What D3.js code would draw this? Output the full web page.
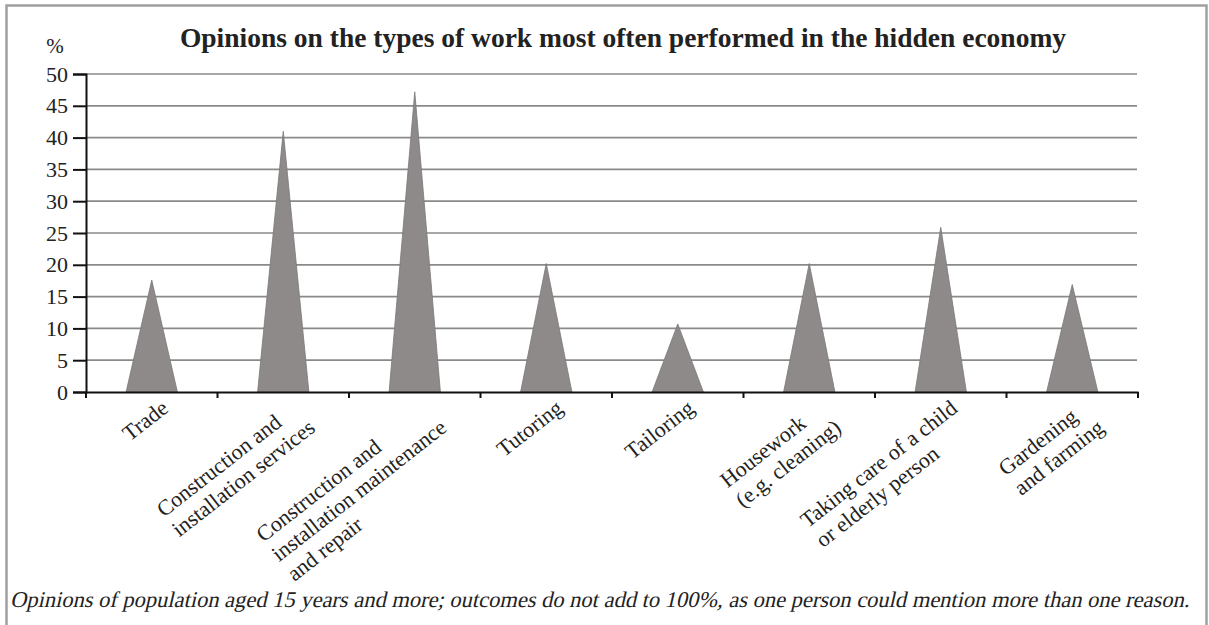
<!DOCTYPE html>
<html>
<head>
<meta charset="utf-8">
<script src="https://cdn.jsdelivr.net/npm/d3@7"></script>
<style>
  html, body { margin: 0; padding: 0; background: #fff; }
  svg { display: block; }
  text { font-family: "Liberation Serif", "Times New Roman", Times, serif; fill: #222; }
</style>
</head>
<body>
<svg id="chart" width="1209" height="625"></svg>
<script>
const categories = [
  "Trade",
  "Construction and installation services",
  "Construction and installation maintenance and repair",
  "Tutoring",
  "Tailoring",
  "Housework (e.g. cleaning)",
  "Taking care of a child or elderly person",
  "Gardening and farming"
];
const labelLines = [
  ["Trade"],
  ["Construction and", "installation services"],
  ["Construction and", "installation maintenance", "and repair"],
  ["Tutoring"],
  ["Tailoring"],
  ["Housework", "(e.g. cleaning)"],
  ["Taking care of a child", "or elderly person"],
  ["Gardening", "and farming"]
];
const values = [17.6, 41, 47.2, 20.2, 10.7, 20.2, 25.9, 16.9];
const yTicks = [0, 5, 10, 15, 20, 25, 30, 35, 40, 45, 50];
const titleText = "Opinions on the types of work most often performed in the hidden economy";
const unitText = "%";
const noteText = "Opinions of population aged 15 years and more; outcomes do not add to 100%, as one person could mention more than one reason.";

const FONT = "'Liberation Serif', 'Times New Roman', Times, serif";
const svg = d3.select("#chart");
const plot = { left: 86, right: 1138, top: 74, bottom: 392 };

// frame
svg.append("rect")
  .attr("x", 6.5).attr("y", 5.5)
  .attr("width", 1200).attr("height", 640)
  .attr("fill", "#fff").attr("stroke", "#a0a0a0").attr("stroke-width", 2.5);

const x = d3.scaleBand().domain(categories).range([plot.left, plot.right]).padding(0);
const y = d3.scaleLinear().domain([0, 50]).range([plot.bottom, plot.top]);

// gridlines
svg.append("g")
  .selectAll("line")
  .data(yTicks.filter(d => d > 0))
  .join("line")
  .attr("x1", plot.left).attr("x2", plot.right - 1)
  .attr("y1", d => y(d)).attr("y2", d => y(d))
  .attr("stroke", "#8a8a8a").attr("stroke-width", 1.7);

// triangles (cone-like bars)
const halfBase = x.bandwidth() * 0.195;
svg.append("g")
  .selectAll("path")
  .data(categories.map((c, i) => ({ c, v: values[i] })))
  .join("path")
  .attr("d", d => {
    const cx = x(d.c) + x.bandwidth() / 2;
    return `M${cx - halfBase},${y(0)} L${cx},${y(d.v)} L${cx + halfBase},${y(0)} Z`;
  })
  .attr("fill", "#8d8a89")
  .attr("stroke", "#7a7877")
  .attr("stroke-width", 0.8);

// y axis
const yAxis = d3.axisLeft(y).tickValues(yTicks).tickSize(13).tickPadding(5).tickFormat(d3.format("d"));
const gy = svg.append("g").attr("transform", `translate(${plot.left},0)`).call(yAxis)
  .attr("font-family", FONT);
gy.select(".domain").attr("stroke", "#111").attr("stroke-width", 2);
gy.selectAll(".tick line").attr("stroke", "#111").attr("stroke-width", 2);
gy.selectAll(".tick text").attr("font-size", 22).attr("fill", "#222").attr("font-family", FONT);

// x axis
const xAxis = d3.axisBottom(x).tickValues([]).tickSizeOuter(0);
const gx = svg.append("g").attr("transform", `translate(0,${plot.bottom})`).call(xAxis);
gx.select(".domain").attr("stroke", "#111").attr("stroke-width", 2);
const bounds = categories.map(c => x(c)).concat([plot.right]);
gx.selectAll("line.bt").data(bounds).join("line").attr("class", "bt")
  .attr("x1", d => d).attr("x2", d => d).attr("y1", 0).attr("y2", 6)
  .attr("stroke", "#111").attr("stroke-width", 2);

// category labels
const angle = -38;
const lh = 25;
const labG = svg.append("g");
categories.forEach((c, i) => {
  const cx = x(c) + x.bandwidth() / 2;
  const g = labG.append("g")
    .attr("transform", `translate(${cx + 8},${plot.bottom + 6}) rotate(${angle})`);
  const texts = labelLines[i].map((ln, k) =>
    g.append("text").text(ln).attr("font-size", 22).attr("font-family", FONT).attr("y", 16 + k * lh)
  );
  const wmax = d3.max(texts, t => t.node().getComputedTextLength());
  texts.forEach(t => t.attr("x", -wmax).attr("text-anchor", "start"));
});

// title
svg.append("text")
  .attr("x", 623).attr("y", 47)
  .attr("text-anchor", "middle")
  .attr("font-size", 27.5).attr("font-weight", "bold").attr("fill", "#111")
  .attr("font-family", FONT)
  .text(titleText);

// unit
svg.append("text")
  .attr("x", 55).attr("y", 53)
  .attr("text-anchor", "middle")
  .attr("font-size", 21).attr("font-family", FONT)
  .text(unitText);

// footnote (slanted serif), sized to fit inside the frame
const note = svg.append("g")
  .attr("transform", "translate(10,607) skewX(-13)")
  .append("text")
  .attr("x", 0).attr("y", 0)
  .attr("font-size", 23).attr("font-family", FONT)
  .text(noteText);
const natural = note.node().getComputedTextLength();
const target = 1180;
if (natural > target) {
  note.attr("font-size", 23 * target / natural);
} else {
  note.attr("textLength", target).attr("lengthAdjust", "spacing");
}
</script>
</body>
</html>
